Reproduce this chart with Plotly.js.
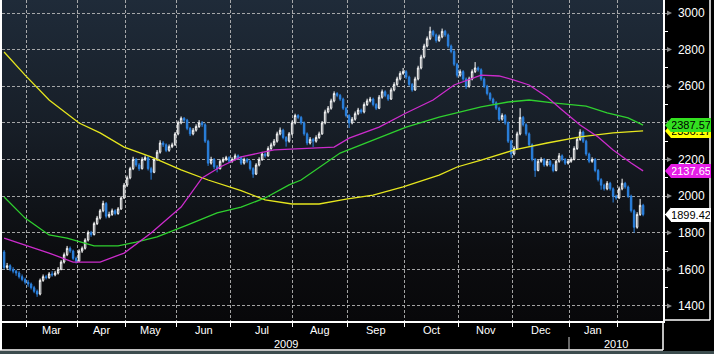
<!DOCTYPE html>
<html><head><meta charset="utf-8">
<script src="https://cdn.plot.ly/plotly-3.0.1.min.js"></script>
<style>
html,body{margin:0;padding:0;background:#000;width:714px;height:354px;overflow:hidden}
#wrap{position:relative;width:714px;height:354px;background:#000}
#bg{position:absolute;left:2px;top:0;width:661px;height:321px;background:linear-gradient(#1f2b39 0%,#171e27 40%,#0c0d10 78%,#08080a 100%)}
#strip{position:absolute;left:0;top:351px;width:714px;height:3px;background:#3c4c4e}
#chart{position:absolute;left:0;top:0;width:714px;height:351px}
</style></head><body>
<div id="wrap"><div id="bg"></div><div id="strip"></div><div id="chart"></div></div>
<script>
// ---- data (trading-day index 0..213, Feb 2009 .. Feb 2010) ----
const opens = [1695,1610,1620,1600,1590,1580,1560,1545,1530,1520,
1500,1480,1465,1540,1560,1555,1575,1570,1580,1600,
1640,1680,1715,1700,1660,1645,1700,1715,1760,1800,
1790,1850,1880,1920,1960,1890,1900,1920,1905,1930,
1990,2060,2100,2150,2200,2170,2150,2200,2210,2150,
2130,2200,2240,2290,2280,2250,2270,2280,2340,2400,
2425,2415,2370,2340,2360,2380,2400,2390,2300,2180,
2200,2160,2150,2190,2200,2210,2190,2200,2220,2210,
2180,2200,2190,2150,2120,2170,2200,2230,2220,2260,
2280,2300,2340,2360,2320,2300,2340,2400,2440,2430,
2400,2340,2290,2310,2300,2320,2340,2400,2460,2480,
2520,2560,2550,2530,2480,2440,2400,2420,2450,2470,
2460,2500,2520,2530,2500,2480,2540,2570,2550,2530,
2580,2610,2640,2670,2680,2650,2610,2580,2640,2700,
2760,2820,2860,2900,2880,2850,2870,2900,2880,2820,
2790,2720,2660,2680,2640,2600,2640,2680,2700,2690,
2640,2600,2560,2530,2510,2480,2420,2440,2400,2300,
2230,2260,2340,2430,2390,2340,2280,2200,2140,2190,
2200,2170,2190,2170,2140,2190,2220,2200,2180,2190,
2200,2260,2310,2350,2300,2230,2190,2200,2140,2090,
2060,2040,2070,2040,2000,1990,2040,2070,2050,2000,
1920,1830,1900,1950];
const highs = [1705,1635,1628,1612,1598,1590,1572,1555,1542,1528,
1510,1490,1550,1572,1570,1585,1590,1592,1612,1650,
1692,1728,1725,1708,1670,1710,1725,1770,1812,1810,
1860,1892,1930,1975,1968,1915,1932,1928,1940,2000,
2072,2112,2160,2215,2208,2180,2212,2222,2218,2160,
2210,2252,2305,2300,2288,2282,2292,2350,2412,2435,
2432,2422,2378,2372,2392,2415,2410,2398,2308,2215,
2208,2170,2200,2212,2220,2218,2212,2232,2228,2218,
2210,2208,2198,2158,2180,2212,2242,2238,2272,2292,
2312,2352,2375,2368,2328,2350,2412,2450,2448,2438,
2408,2348,2322,2318,2332,2352,2410,2472,2492,2532,
2572,2568,2558,2538,2488,2448,2432,2462,2482,2478,
2512,2532,2542,2538,2508,2552,2582,2578,2558,2592,
2622,2652,2682,2700,2688,2658,2618,2652,2712,2772,
2832,2872,2925,2908,2888,2882,2915,2908,2888,2828,
2798,2728,2692,2688,2648,2652,2692,2732,2708,2698,
2648,2608,2568,2538,2518,2488,2452,2448,2408,2308,
2272,2352,2480,2438,2398,2348,2288,2208,2200,2212,
2208,2202,2198,2178,2200,2235,2228,2208,2202,2212,
2272,2322,2365,2358,2308,2238,2212,2208,2148,2098,
2068,2082,2078,2048,2008,2052,2095,2078,2058,2008,
1928,1912,1985,1958];
const lows = [1600,1598,1590,1578,1565,1550,1535,1518,1505,1490,
1470,1450,1458,1532,1545,1548,1560,1562,1572,1595,
1632,1672,1690,1650,1632,1640,1690,1708,1752,1778,
1785,1842,1872,1912,1878,1880,1892,1895,1898,1925,
1985,2050,2092,2142,2160,2138,2145,2192,2140,2090,
2125,2192,2232,2268,2240,2242,2262,2275,2332,2392,
2405,2360,2328,2332,2352,2372,2378,2290,2165,2172,
2148,2130,2145,2182,2192,2180,2182,2195,2200,2170,
2172,2180,2140,2100,2115,2162,2192,2210,2215,2252,
2272,2292,2332,2310,2270,2292,2332,2392,2420,2390,
2330,2278,2282,2268,2292,2312,2335,2392,2452,2472,
2512,2540,2520,2470,2430,2372,2392,2412,2442,2450,
2452,2492,2512,2490,2470,2475,2532,2540,2520,2525,
2572,2602,2632,2662,2640,2600,2570,2575,2632,2692,
2752,2812,2852,2870,2838,2842,2862,2870,2810,2780,
2710,2648,2652,2630,2585,2592,2632,2672,2680,2630,
2590,2550,2520,2500,2470,2410,2412,2390,2290,2210,
2222,2252,2332,2380,2330,2270,2190,2105,2135,2182,
2160,2162,2160,2130,2135,2182,2190,2170,2172,2182,
2195,2252,2302,2290,2220,2180,2182,2130,2080,2035,
2030,2032,2030,1965,1980,1985,2032,2040,1990,1910,
1800,1822,1892,1890];
const closes = [1610,1620,1600,1590,1580,1560,1545,1530,1520,1500,
1480,1465,1540,1560,1555,1575,1570,1580,1600,1640,
1680,1715,1700,1660,1645,1700,1715,1760,1800,1790,
1850,1880,1920,1960,1890,1900,1920,1905,1930,1990,
2060,2100,2150,2200,2170,2150,2200,2210,2150,2130,
2200,2240,2290,2280,2250,2270,2280,2340,2400,2425,
2415,2370,2340,2360,2380,2400,2390,2300,2180,2200,
2160,2150,2190,2200,2210,2190,2200,2220,2210,2180,
2200,2190,2150,2120,2170,2200,2230,2220,2260,2280,
2300,2340,2360,2320,2300,2340,2400,2440,2430,2400,
2340,2290,2310,2300,2320,2340,2400,2460,2480,2520,
2560,2550,2530,2480,2440,2400,2420,2450,2470,2460,
2500,2520,2530,2500,2480,2540,2570,2550,2530,2580,
2610,2640,2670,2680,2650,2610,2580,2640,2700,2760,
2820,2860,2900,2880,2850,2870,2900,2880,2820,2790,
2720,2660,2680,2640,2600,2640,2680,2700,2690,2640,
2600,2560,2530,2510,2480,2420,2440,2400,2300,2230,
2260,2340,2430,2390,2340,2280,2200,2140,2190,2200,
2170,2190,2170,2140,2190,2220,2200,2180,2190,2200,
2260,2310,2350,2300,2230,2190,2200,2140,2090,2060,
2040,2070,2040,2000,1990,2040,2070,2050,2000,1920,
1830,1900,1950,1899.42];
const days = closes.map((_, i) => i);

// moving averages (sampled trading-day index, value)
const ma200Days = [0,7,15,25,32,40,49,59,68,79,87,96,105,114,123,133,145,151,159,170,181,192,203,213];
const ma200Vals = [2787,2661,2525,2399,2345,2268,2214,2143,2088,2030,1979,1957,1957,1984,2006,2050,2115,2159,2197,2252,2290,2323,2345,2356.17];
const ma100Days = [0,7,15,21,30,38,44,51,61,71,79,87,95,99,112,123,134,145,159,168,175,183,194,201,208,213];
const ma100Vals = [1995,1880,1788,1771,1728,1728,1749,1777,1842,1908,1940,1990,2061,2088,2235,2306,2377,2432,2487,2514,2525,2509,2492,2454,2427,2387.57];
const ma50Days = [0,7,15,23,32,40,49,59,66,72,79,90,110,115,125,134,143,150,156,159,165,170,175,181,186,192,198,203,209,213];
const ma50Vals = [1771,1733,1689,1640,1640,1689,1798,1940,2099,2159,2214,2252,2268,2317,2377,2454,2525,2607,2645,2661,2656,2634,2607,2541,2470,2388,2323,2252,2181,2137.65];

// axis: month boundaries (trading-day index) and labels
const monthBounds = [7.3,24.3,40.3,57.6,75.6,96.0,114.3,133.6,151.6,169.6,188.3,204.6];
const monthLabels = ['Mar','Apr','May','Jun','Jul','Aug','Sep','Oct','Nov','Dec','Jan'];
const yearLabels = ['2009','2010'];

// ---- geometry helpers ----
const xr = [-0.7, 219.63], yr = [1318, 3071];
const W = 714, H = 351, ML = 2, MR = 51, MT = 0, MB = 30;
const PW = W - ML - MR, PH = H - MT - MB;
const pxX = px => (px - ML) / PW;          // page px -> paper x
const pxY = py => (PH - py) / PH;          // page px -> paper y
const ix = i => (i - xr[0]) / (xr[1] - xr[0]);
const vy = v => (v - yr[0]) / (yr[1] - yr[0]);
const unitPerPx = (yr[1] - yr[0]) / PH;
const yTicks = [];
for (let v = 1400; v <= 3000; v += 200) yTicks.push(v);

const YEL = '#e6e61e', GRN = '#2fd02f', MAG = '#cc2ccc', BLU = '#2b82e0';

const traces = [
  {type:'scatter', mode:'lines', x:ma200Days, y:ma200Vals, line:{color:YEL, width:1.3}, hoverinfo:'skip'},
  {type:'scatter', mode:'lines', x:ma100Days, y:ma100Vals, line:{color:GRN, width:1.3}, hoverinfo:'skip'},
  {type:'scatter', mode:'lines', x:ma50Days, y:ma50Vals, line:{color:MAG, width:1.3}, hoverinfo:'skip'},
  {type:'candlestick', x:days, open:opens, high:highs, low:lows, close:closes,
   increasing:{line:{color:'#ffffff', width:1}, fillcolor:'#0e1218'},
   decreasing:{line:{color:BLU, width:1}, fillcolor:BLU},
   whiskerwidth:0, hoverinfo:'skip'}
];

const shapes = [];
const line = (x0,y0,x1,y1,c,w) => shapes.push({type:'line', xref:'paper', yref:'paper', x0, y0, x1, y1, line:{color:c, width:w}});
// frame lines
line(pxX(1), 1, pxX(1), pxY(350), '#ffffff', 2);
line(pxX(0), pxY(350), 1, pxY(350), '#ffffff', 1.5);
line(1, 0, 1, pxY(350), '#ffffff', 1.5);
line(ix(monthBounds[10]), pxY(337), ix(monthBounds[10]), pxY(350), '#cfcfcf', 1);
line(pxX(710), 1, pxX(710), pxY(320), '#ffffff', 1.5);
line(1, pxY(320), pxX(710), pxY(320), '#ffffff', 1.5);
// tick arrow heads
yTicks.forEach(v => {
  const h = 2.5 * unitPerPx;
  shapes.push({type:'path', xref:'paper', yref:'paper', fillcolor:'#8c8c8c', line:{width:0},
    path:`M ${pxX(667)},${vy(v+h)} L ${pxX(672)},${vy(v)} L ${pxX(667)},${vy(v-h)} Z`});
});

const annotations = [];
// month labels (centred between month boundaries)
monthLabels.forEach((m, k) => {
  annotations.push({xref:'paper', yref:'paper', x:ix((monthBounds[k] + monthBounds[k+1]) / 2), y:pxY(329.5),
    text:m, showarrow:false, xanchor:'center', yanchor:'middle', font:{size:11, color:'#fff'}});
});
// year labels
annotations.push({xref:'paper', yref:'paper', x:ix((xr[0] + monthBounds[10]) / 2), y:pxY(343.5), text:yearLabels[0], showarrow:false, xanchor:'center', yanchor:'middle', font:{size:11, color:'#fff'}});
annotations.push({xref:'paper', yref:'paper', x:ix((monthBounds[10] + xr[1]) / 2), y:pxY(343.5), text:yearLabels[1], showarrow:false, xanchor:'center', yanchor:'middle', font:{size:11, color:'#fff'}});

// last-value labels
const lastLabels = [
  {v: ma50Vals[ma50Vals.length-1], bg: '#e61ee6', fg: '#ffffff'},
  {v: closes[closes.length-1], bg: '#ffffff', fg: '#000000'},
  {v: ma200Vals[ma200Vals.length-1], bg: '#ffff00', fg: '#000000'},
  {v: ma100Vals[ma100Vals.length-1], bg: '#33e020', fg: '#000000'}
];
lastLabels.forEach(o => {
  const h = 7 * unitPerPx;
  shapes.push({type:'path', xref:'paper', yref:'paper', fillcolor:o.bg, line:{width:0},
    path:`M ${pxX(665)},${vy(o.v)} L ${pxX(671)},${vy(o.v+h)} L ${pxX(671)},${vy(o.v-h)} Z`});
  annotations.push({xref:'paper', yref:'paper', x:pxX(670.5), y:vy(o.v), xanchor:'left', yanchor:'middle',
    text:o.v.toFixed(2), showarrow:false, bgcolor:o.bg, width:38, height:12, borderpad:1, borderwidth:0,
    font:{size:11, color:o.fg}, align:'center'});
});

const GRID = 'rgba(190,190,190,0.85)';
const layout = {
  width:W, height:H, margin:{l:ML, r:MR, t:MT, b:MB},
  paper_bgcolor:'rgba(0,0,0,0)', plot_bgcolor:'rgba(0,0,0,0)', showlegend:false,
  font:{family:'Liberation Sans, Arial, sans-serif', size:11, color:'#ffffff'},
  xaxis:{range:xr, fixedrange:true, rangeslider:{visible:false}, tickmode:'array', tickvals:monthBounds,
    showticklabels:false, ticks:'outside', ticklen:4, tickcolor:'#ffffff', tickwidth:1,
    showgrid:true, gridcolor:GRID, griddash:'3px,2px', gridwidth:1,
    zeroline:false, showline:true, linecolor:'#ffffff', linewidth:1.5},
  yaxis:{side:'right', range:yr, fixedrange:true, tickmode:'array', tickvals:yTicks, ticks:'outside', ticklen:5, tickcolor:'#8c8c8c',
    showgrid:true, gridcolor:GRID, griddash:'3px,2px', gridwidth:1, zeroline:false, showline:true, linecolor:'#ffffff', linewidth:1.5,
    ticklabelstandoff:6, tickfont:{size:12, color:'#ffffff'},
    minor:{tick0:0, dtick:100, ticks:'outside', ticklen:3, tickcolor:'#ffffff', showgrid:false}},
  shapes, annotations
};
Plotly.newPlot('chart', traces, layout, {staticPlot:true, displayModeBar:false});
</script></body></html>
